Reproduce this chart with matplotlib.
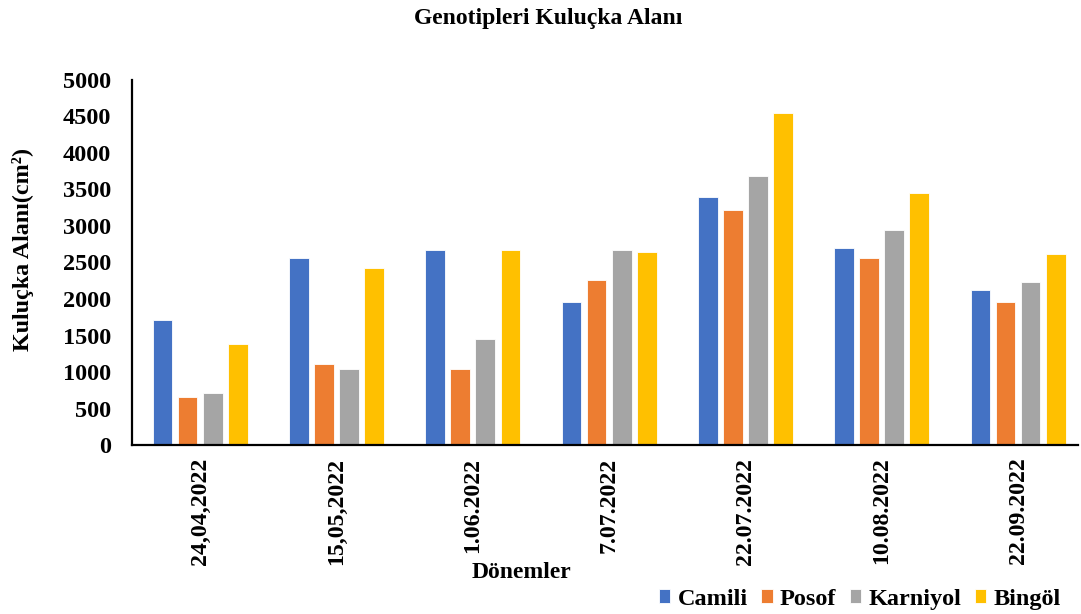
import numpy as np
import matplotlib
matplotlib.use("Agg")
import matplotlib.pyplot as plt

plt.rcParams['font.family'] = ['Liberation Serif', 'DejaVu Serif']
plt.rcParams['font.weight'] = 'bold'

# veriler
donemler = ["24,04,2022", "15,05,2022", "1.06.2022", "7.07.2022",
            "22.07.2022", "10.08.2022", "22.09.2022"]
camili = [1715, 2565, 2675, 1960, 3395, 2695, 2120]
posof = [655, 1115, 1040, 2260, 3225, 2560, 1960]
karniyol = [710, 1045, 1450, 2675, 3680, 2940, 2235]
bingol = [1385, 2430, 2670, 2640, 4545, 3455, 2620]

seriler = [("Camili", camili, "#4472C4"),
           ("Posof", posof, "#ED7D31"),
           ("Karniyol", karniyol, "#A5A5A5"),
           ("Bingöl", bingol, "#FFC000")]

fig = plt.figure(figsize=(10.81, 6.14), dpi=100)
ax = fig.add_axes([132 / 1081, 0.275, 946 / 1081, 0.595])

x = np.arange(len(donemler))
adim = 0.184
genislik = 0.145
for i, (ad, deger, renk) in enumerate(seriler):
    ax.bar(x + (i - 1.5) * adim, deger, genislik, color=renk, label=ad,
           edgecolor="white", linewidth=0.6)

ax.set_xlim(-0.5, 6.44)
ax.set_ylim(0, 5000)
ax.set_yticks(np.arange(0, 5001, 500))
ax.set_xticks(x)
ax.set_xticklabels(donemler, rotation=90, fontsize=17.2, fontweight="bold")
ax.tick_params(axis="y", labelsize=17.5, length=0, pad=15)
ax.tick_params(axis="x", length=0, pad=9)
for lab in ax.get_yticklabels():
    lab.set_fontweight("bold")

for s in ["top", "right"]:
    ax.spines[s].set_visible(False)
for s in ["left", "bottom"]:
    ax.spines[s].set_linewidth(1.6)
    ax.spines[s].set_color("black")

fig.text(0.507, 0.97, "Genotipleri Kuluçka Alanı", ha="center", va="center",
         fontsize=17, fontweight="bold")
fig.text(0.021, 0.594, "Kuluçka Alanı(cm²)", rotation=90,
         ha="center", va="center", fontsize=17.3, fontweight="bold")
fig.text(0.482, 0.067, "Dönemler", ha="center", va="center",
         fontsize=17, fontweight="bold")

fig.legend(loc="center right", bbox_to_anchor=(0.99, 0.024), ncol=4,
           frameon=False, prop={"size": 17.5, "weight": "bold"},
           handlelength=0.47, handleheight=0.47, handletextpad=0.3,
           columnspacing=0.55, borderaxespad=0)

fig.savefig("out.png", dpi=100)
